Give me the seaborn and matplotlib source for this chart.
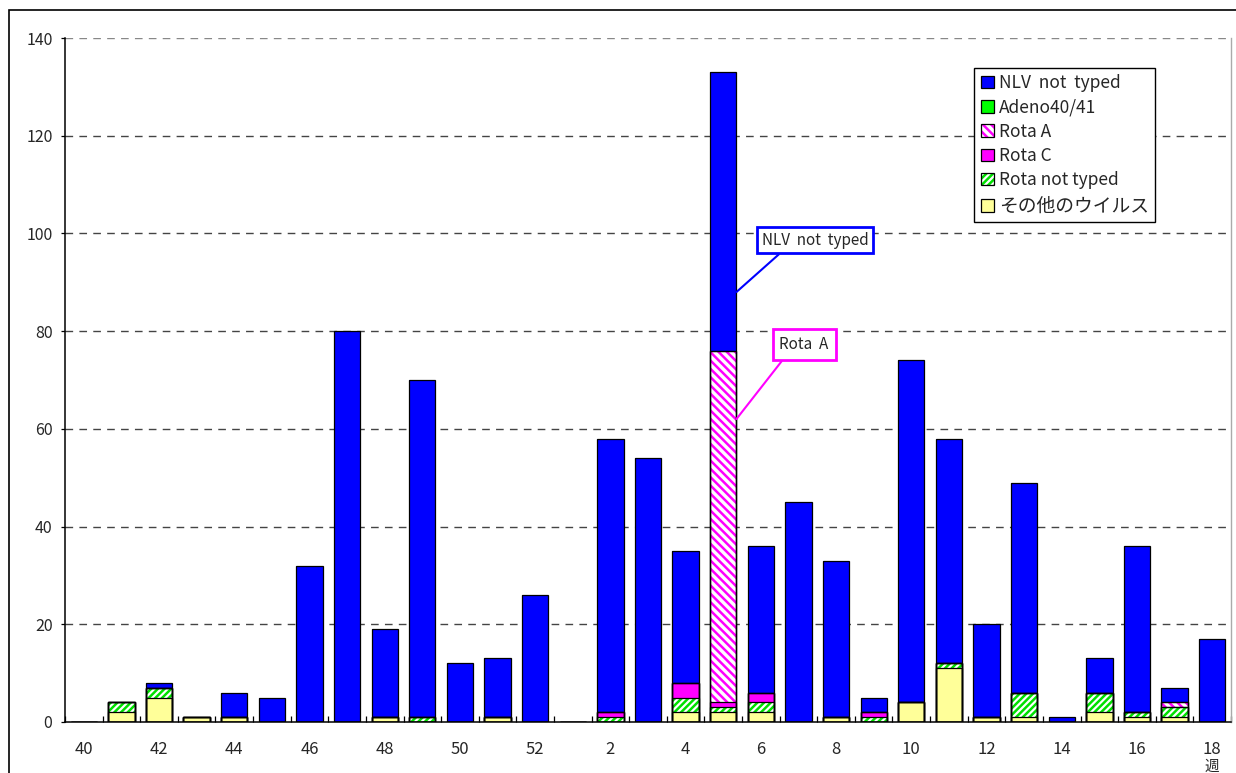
import numpy as np
import pandas as pd
import matplotlib
matplotlib.use("Agg")
import matplotlib.pyplot as plt
from matplotlib.patches import Patch, Rectangle
from matplotlib.ticker import FixedLocator
import seaborn as sns

# weeks 40-52 of one year, then 1-18 of the next
weeks = [str(w) for w in list(range(40, 53)) + list(range(1, 19))]

other_virus = [0, 2, 5, 1, 1, 0, 0, 0, 1, 0, 0, 1, 0, 0, 0, 0, 2, 2, 2, 0, 1, 0, 4, 11, 1, 1, 0, 2, 1, 1, 0]
rota_nt = [0, 2, 2, 0, 0, 0, 0, 0, 0, 1, 0, 0, 0, 0, 1, 0, 3, 1, 2, 0, 0, 1, 0, 1, 0, 5, 0, 4, 1, 2, 0]
rota_c = [0, 0, 0, 0, 0, 0, 0, 0, 0, 0, 0, 0, 0, 0, 1, 0, 3, 1, 2, 0, 0, 1, 0, 0, 0, 0, 0, 0, 0, 0, 0]
rota_a = [0, 0, 0, 0, 0, 0, 0, 0, 0, 0, 0, 0, 0, 0, 0, 0, 0, 72, 0, 0, 0, 0, 0, 0, 0, 0, 0, 0, 0, 1, 0]
adeno = [0] * 31
nlv = [0, 0, 1, 0, 5, 5, 32, 80, 18, 69, 12, 12, 26, 0, 56, 54, 27, 57, 30, 45, 32, 3, 70, 46, 19, 43, 1, 7, 34, 3, 17]

y_ticks = [0, 20, 40, 60, 80, 100, 120, 140]

# (label, values, face, hatch, hatch colour), bottom to top
layers = [
    ("その他のウイルス", other_virus, "#FFFF99", None, None),
    ("Rota not typed", rota_nt, "white", "/////", "#00E000"),
    ("Rota C", rota_c, "#FF00FF", None, None),
    ("Rota A", rota_a, "white", "\\\\\\\\", "#FF00FF"),
    ("Adeno40/41", adeno, "#00FF00", None, None),
    ("NLV  not  typed", nlv, "#0000FF", None, None),
]

sns.set_theme(style="white")
plt.rcParams["font.family"] = ["Noto Sans CJK JP", "DejaVu Sans"]
plt.rcParams["hatch.linewidth"] = 1.8

df = pd.DataFrame({"week": weeks})
cum = np.zeros(len(weeks))
cols = []
for i, (name, vals, fc, hatch, hc) in enumerate(layers):
    cum = cum + np.array(vals)
    df[f"c{i}"] = cum
    cols.append(f"c{i}")

fig = plt.figure(figsize=(12.36, 7.73), dpi=100)
ax = fig.add_axes([65 / 1236, 51 / 773, 1166 / 1236, 684 / 773])

bw = 0.7
# draw cumulative totals from the top layer down so lower layers cover them
for i in range(len(layers) - 1, -1, -1):
    name, vals, fc, hatch, hc = layers[i]
    kw = dict(color=fc, saturation=1, width=bw, linewidth=0, ax=ax, order=weeks)
    if hatch:
        kw.update(hatch=hatch, edgecolor=hc)
    sns.barplot(data=df, x="week", y=cols[i], **kw)
# black outlines for every segment
for c in cols:
    sns.barplot(data=df, x="week", y=c, fill=False, color="black", width=bw,
                linewidth=0.9, edgecolor="black", ax=ax, order=weeks)

ax.set_xlim(-0.5, len(weeks) - 0.5)
ax.set_ylim(0, 140)
ax.set_yticks(y_ticks)
ax.set_yticklabels([str(t) for t in y_ticks], fontsize=11.5)
ax.set_xticks(range(0, len(weeks), 2))
ax.set_xticklabels(weeks[::2], fontsize=12)
ax.xaxis.set_minor_locator(FixedLocator(np.arange(-0.5, len(weeks), 1.0)))
ax.tick_params(axis="x", which="major", length=0, pad=14)
ax.tick_params(axis="x", which="minor", direction="in", length=4, width=0.9, color="black", bottom=True)
ax.tick_params(axis="y", which="major", direction="out", length=3, width=0.9, color="black", left=True, pad=6)
ax.set_xlabel("")
ax.set_ylabel("")

for t in y_ticks[1:]:
    ax.axhline(t, color="#444444" if t < 140 else "#888888", lw=1, ls=(0, (5.5, 4.5)), zorder=0.5)

for s in ["left", "bottom"]:
    ax.spines[s].set_color("black")
    ax.spines[s].set_linewidth(1.1)
ax.spines["top"].set_visible(False)
ax.spines["right"].set_color("#AAAAAA")
ax.spines["right"].set_linewidth(1)

ax.text(len(weeks) - 1, -0.066, "週", transform=ax.get_xaxis_transform(),
        ha="center", va="center", fontsize=10.5)

# legend, top layer first
handles = []
labels = []
for name, vals, fc, hatch, hc in layers[::-1]:
    if hatch:
        h = (Patch(facecolor=fc, hatch=hatch, edgecolor=hc, linewidth=0),
             Patch(fill=False, edgecolor="black", linewidth=0.9))
    else:
        h = Patch(facecolor=fc, edgecolor="black", linewidth=0.9)
    handles.append(h)
    labels.append(name)
leg = ax.legend(handles, labels, loc="upper left", bbox_to_anchor=(0.780, 0.956),
                borderaxespad=0, fontsize=12.5, frameon=True, fancybox=False,
                handlelength=0.75, handleheight=0.75, handletextpad=0.3,
                labelspacing=0.36, borderpad=0.35)
leg.get_frame().set_edgecolor("black")
leg.get_frame().set_linewidth(1)
leg.get_frame().set_alpha(1)
leg.get_texts()[-1].set_fontsize(13.5)

# callouts on week 5
i5 = weeks.index("5")
ax.annotate("NLV  not  typed", xy=(i5 + bw / 2, 88), xytext=(19.44, 98.6),
            ha="center", va="center", fontsize=11,
            bbox=dict(boxstyle="square,pad=0.3", fc="white", ec="#0000FF", lw=2),
            arrowprops=dict(arrowstyle="-", color="#0000FF", lw=1.5, relpos=(0.22, 0),
                            shrinkA=0, shrinkB=0))
ax.annotate("Rota  A", xy=(i5 + bw / 2, 62), xytext=(19.15, 77.2),
            ha="center", va="center", fontsize=11,
            bbox=dict(boxstyle="square,pad=0.45", fc="white", ec="#FF00FF", lw=2),
            arrowprops=dict(arrowstyle="-", color="#FF00FF", lw=1.5, relpos=(0.17, 0),
                            shrinkA=0, shrinkB=0))

# outer chart frame
fig.add_artist(Rectangle((9 / 1236, -0.2), 1.2, 1.2 - 10 / 773,
                         transform=fig.transFigure, fill=False, lw=1.2, ec="black"))

fig.savefig("out.png", dpi=100)
